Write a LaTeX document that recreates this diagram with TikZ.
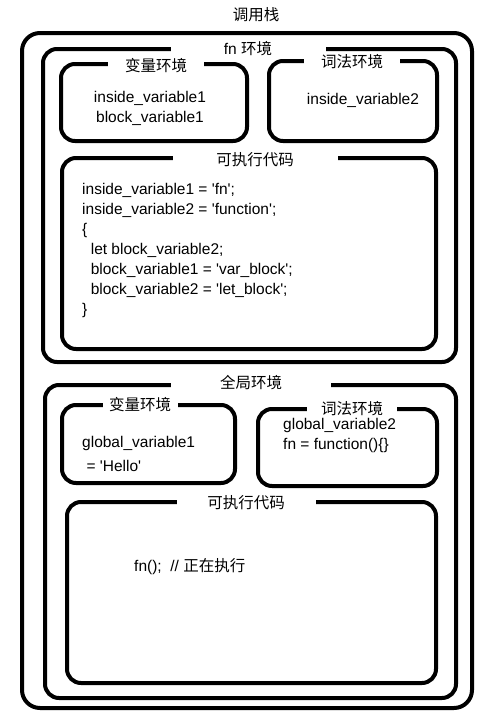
\documentclass[tikz,border=0pt]{standalone}
\usepackage{fontspec}
\setmainfont[Ligatures=TeXOff]{Liberation Sans}
\newfontfamily\cjk{Noto Sans CJK SC}
\usepackage{tikz}

\begin{document}
\begin{tikzpicture}[x=1pt, y=-1pt,
    every node/.style={font=\fontsize{15.5}{20}\selectfont, inner sep=0pt},
    envbox/.style={draw, line width=4pt, rounded corners=14pt},
    boxtitle/.style={fill=white, inner ysep=2pt, minimum height=10pt}]
    \useasboundingbox (0,0) rectangle (482,718);

    % call stack
    \draw[envbox, rounded corners=18pt] (22,33) rectangle (472,708);
    \node (stack) at (256,15) {\cjk 调用栈};

    % fn environment
    \draw[envbox] (43,49) rectangle (456,362);
    \node[boxtitle, minimum width=155pt] (fnenv) at (248,49) {fn {\cjk 环境}};

    \draw[envbox] (61,64) rectangle (247,141);
    \node[boxtitle, minimum width=96pt] (fnvar) at (156,66) {\cjk 变量环境};
    \node[align=center] (fnvarbody) at (150,108) {inside\_variable1\\block\_variable1};

    \draw[envbox] (269,61) rectangle (437,141);
    \node[boxtitle, minimum width=96pt] (fnlex) at (352,62) {\cjk 词法环境};
    \node (fnlexbody) at (363,100) {inside\_variable2};

    \draw[envbox] (62,158) rectangle (436,349);
    \node[boxtitle, minimum width=165pt] (fncode) at (255,160) {\cjk 可执行代码};
    \node[anchor=west, align=left] (fncodebody) at (82,250)
        {inside\_variable1 = 'fn';\\
         inside\_variable2 = 'function';\\
         \{\\
         \ \ let block\_variable2;\\
         \ \ block\_variable1 = 'var\_block';\\
         \ \ block\_variable2 = 'let\_block';\\
         \}};

    % global environment
    \draw[envbox] (45,385) rectangle (456,698);
    \node[boxtitle, minimum width=160pt] (globalenv) at (251,383) {\cjk 全局环境};

    \draw[envbox] (62,405) rectangle (235,483);
    \node[boxtitle, minimum width=75pt] (globalvar) at (140,405) {\cjk 变量环境};
    \node[anchor=west, align=left] (globalvarbody) at (82,454) {global\_variable1\\[4pt]\ = 'Hello'};

    \draw[envbox] (258,409) rectangle (437,486);
    \node[boxtitle, minimum width=90pt] (globallex) at (352,409) {\cjk 词法环境};
    \node[anchor=west, align=left] (globallexbody) at (283,435) {global\_variable2\\fn = function()\{\}};

    \draw[envbox] (67,502) rectangle (436,683);
    \node[boxtitle, minimum width=139pt] (globalcode) at (246,503) {\cjk 可执行代码};
    \node[anchor=west] (globalcodebody) at (134,567) {fn();\ \ // {\cjk 正在执行}};
\end{tikzpicture}
\end{document}
